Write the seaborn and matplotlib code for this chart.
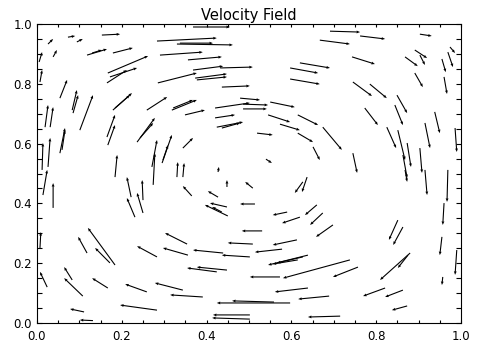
import matplotlib
matplotlib.use("Agg")
import matplotlib.pyplot as plt
from matplotlib.ticker import MultipleLocator, FormatStrFormatter
import seaborn as sns
import numpy as np

# Streak tails (x0, y0) and heads (x1, y1)
x0 = [0.368, 0.153, 0.073, 0.094, 0.026, 0.283, 0.330, 0.337, 0.118, 0.130,
      0.179, 0.038, 0.005, 0.290, 0.356, 0.167, 0.172, 0.165, 0.368, 0.432,
      0.285, 0.373, 0.377, 0.436, 0.007, 0.054, 0.083, 0.085, 0.101, 0.179,
      0.184, 0.259, 0.318, 0.321, 0.349, 0.420, 0.019, 0.031, 0.165, 0.167,
      0.236, 0.243, 0.420, 0.424, 0.436, 0.054, 0.059, 0.012, 0.026, 0.271,
      0.295, 0.297, 0.344, 0.184, 0.274, 0.330, 0.344, 0.427,
      0.014, 0.038, 0.222, 0.250, 0.231, 0.250, 0.365, 0.427, 0.448, 0.509,
      0.448, 0.450, 0.436, 0.514, 0.531, 0.007, 0.118, 0.184, 0.172, 0.283,
      0.354, 0.356, 0.439, 0.502, 0.509, 0.448, 0.424, 0.024, 0.083, 0.108,
      0.167, 0.259, 0.344, 0.391, 0.283, 0.111, 0.132, 0.597, 0.559, 0.502,
      0.502,
      0.691, 0.667, 0.762, 0.903, 0.620, 0.597, 0.597, 0.743, 0.868, 0.891,
      0.903, 0.974, 0.969, 0.955, 0.960, 0.891, 0.745, 0.785, 0.479, 0.486,
      0.486, 0.550, 0.849, 0.844, 0.773, 0.938, 0.986, 0.545, 0.615, 0.573,
      0.519, 0.615, 0.674, 0.825, 0.851, 0.915, 0.873, 0.651, 0.540, 0.745,
      0.863, 0.903,
      0.637, 0.627, 0.868, 0.915, 0.969, 0.960, 0.955, 0.990, 0.957, 0.590,
      0.620, 0.660, 0.674, 0.698, 0.613, 0.578, 0.639, 0.627, 0.615, 0.738,
      0.757, 0.573, 0.851, 0.863, 0.880, 0.875, 0.821, 0.863, 0.873, 0.639,
      0.689, 0.715]
y0 = [0.990, 0.963, 0.956, 0.940, 0.933, 0.943, 0.933, 0.936, 0.896, 0.903,
      0.903, 0.890, 0.873, 0.896, 0.880, 0.836, 0.823, 0.803, 0.846, 0.853,
      0.803, 0.819, 0.813, 0.789, 0.806, 0.752, 0.712, 0.702, 0.645, 0.712,
      0.719, 0.712, 0.712, 0.719, 0.696, 0.719, 0.655, 0.655, 0.622, 0.595,
      0.605, 0.619, 0.686, 0.655, 0.652, 0.568, 0.579, 0.512, 0.522, 0.522,
      0.535, 0.545, 0.585, 0.488, 0.462, 0.488, 0.488, 0.505,
      0.428, 0.385, 0.421, 0.411, 0.354, 0.368, 0.425, 0.421, 0.455, 0.451,
      0.388, 0.358, 0.371, 0.398, 0.308, 0.251, 0.234, 0.194, 0.201, 0.221,
      0.264, 0.227, 0.234, 0.221, 0.264, 0.177, 0.171, 0.120, 0.144, 0.090,
      0.117, 0.104, 0.110, 0.087, 0.043, 0.037, 0.008, 0.067, 0.070, 0.027,
      0.013,
      0.976, 0.946, 0.960, 0.966, 0.870, 0.853, 0.816, 0.890, 0.890, 0.913,
      0.896, 0.923, 0.906, 0.883, 0.823, 0.836, 0.806, 0.799, 0.752, 0.732,
      0.716, 0.739, 0.762, 0.729, 0.719, 0.706, 0.652, 0.696, 0.696, 0.665,
      0.635, 0.635, 0.655, 0.655, 0.645, 0.669, 0.602, 0.589, 0.548, 0.568,
      0.562, 0.585,
      0.488, 0.472, 0.512, 0.512, 0.512, 0.401, 0.288, 0.244, 0.154, 0.371,
      0.354, 0.395, 0.368, 0.328, 0.278, 0.247, 0.227, 0.221, 0.211, 0.211,
      0.187, 0.154, 0.344, 0.321, 0.234, 0.227, 0.117, 0.110, 0.057, 0.117,
      0.090, 0.023]
x1 = [0.455, 0.196, 0.090, 0.108, 0.038, 0.424, 0.462, 0.415, 0.165, 0.153,
      0.226, 0.047, 0.012, 0.391, 0.436, 0.262, 0.236, 0.212, 0.439, 0.509,
      0.377, 0.448, 0.448, 0.502, 0.012, 0.071, 0.094, 0.097, 0.132, 0.224,
      0.219, 0.307, 0.377, 0.368, 0.396, 0.502, 0.026, 0.038, 0.184, 0.184,
      0.278, 0.274, 0.467, 0.486, 0.479, 0.066, 0.066, 0.014, 0.031, 0.283,
      0.318, 0.309, 0.368, 0.189, 0.278, 0.332, 0.347, 0.429,
      0.024, 0.038, 0.212, 0.248, 0.212, 0.236, 0.344, 0.403, 0.448, 0.491,
      0.408, 0.396, 0.413, 0.479, 0.483, 0.009, 0.097, 0.120, 0.137, 0.236,
      0.302, 0.297, 0.368, 0.436, 0.450, 0.377, 0.354, 0.007, 0.064, 0.064,
      0.130, 0.208, 0.278, 0.314, 0.196, 0.078, 0.101, 0.424, 0.460, 0.415,
      0.413,
      0.762, 0.738, 0.821, 0.931, 0.691, 0.663, 0.667, 0.797, 0.898, 0.920,
      0.915, 0.986, 0.981, 0.964, 0.967, 0.910, 0.790, 0.825, 0.526, 0.545,
      0.542, 0.608, 0.873, 0.863, 0.804, 0.950, 0.990, 0.597, 0.663, 0.620,
      0.556, 0.651, 0.719, 0.847, 0.868, 0.927, 0.882, 0.667, 0.554, 0.755,
      0.873, 0.908,
      0.625, 0.608, 0.873, 0.920, 0.967, 0.957, 0.950, 0.986, 0.955, 0.556,
      0.578, 0.632, 0.644, 0.658, 0.556, 0.514, 0.545, 0.566, 0.556, 0.580,
      0.698, 0.502, 0.830, 0.840, 0.809, 0.851, 0.769, 0.821, 0.837, 0.561,
      0.616, 0.639]
y1 = [0.990, 0.966, 0.960, 0.950, 0.950, 0.953, 0.930, 0.936, 0.916, 0.913,
      0.920, 0.913, 0.906, 0.906, 0.890, 0.893, 0.853, 0.846, 0.859, 0.856,
      0.836, 0.833, 0.823, 0.793, 0.846, 0.813, 0.779, 0.762, 0.762, 0.769,
      0.762, 0.756, 0.746, 0.746, 0.712, 0.736, 0.729, 0.722, 0.696, 0.662,
      0.686, 0.669, 0.696, 0.672, 0.669, 0.652, 0.645, 0.602, 0.619, 0.612,
      0.629, 0.595, 0.619, 0.562, 0.568, 0.538, 0.535, 0.522,
      0.512, 0.468, 0.488, 0.478, 0.418, 0.435, 0.458, 0.441, 0.478, 0.472,
      0.401, 0.395, 0.388, 0.398, 0.308, 0.304, 0.288, 0.318, 0.251, 0.257,
      0.301, 0.251, 0.244, 0.227, 0.268, 0.187, 0.184, 0.171, 0.187, 0.150,
      0.150, 0.130, 0.134, 0.094, 0.060, 0.047, 0.010, 0.067, 0.074, 0.027,
      0.017,
      0.973, 0.933, 0.950, 0.960, 0.853, 0.836, 0.799, 0.866, 0.859, 0.886,
      0.863, 0.903, 0.856, 0.839, 0.766, 0.789, 0.759, 0.752, 0.746, 0.729,
      0.716, 0.722, 0.702, 0.662, 0.662, 0.635, 0.572, 0.672, 0.662, 0.645,
      0.629, 0.605, 0.579, 0.585, 0.545, 0.585, 0.522, 0.545, 0.535, 0.502,
      0.485, 0.502,
      0.438, 0.435, 0.472, 0.428, 0.405, 0.328, 0.227, 0.161, 0.127, 0.361,
      0.334, 0.361, 0.328, 0.288, 0.261, 0.237, 0.194, 0.201, 0.197, 0.150,
      0.154, 0.154, 0.278, 0.261, 0.144, 0.184, 0.090, 0.087, 0.043, 0.104,
      0.080, 0.020]

tick_values = [0.0, 0.2, 0.4, 0.6, 0.8, 1.0]
title = "Velocity Field"

sns.set_style("ticks")
plt.rcParams['font.family'] = ['DejaVu Sans']

X0 = np.array(x0); Y0 = np.array(y0)
U = np.array(x1) - X0; V = np.array(y1) - Y0

fig = plt.figure(figsize=(4.8, 3.56), dpi=100)
ax = fig.add_axes([37/480, 33/356, 424/480, 299/356])
ax.quiver(X0, Y0, U, V, angles='xy', scale_units='xy', scale=1,
          color='black', width=0.0026, headwidth=2.6, headlength=3.2,
          headaxislength=3.0, minlength=0.5)
ax.set_xlim(0, 1)
ax.set_ylim(0, 1)
ax.set_xticks(tick_values)
ax.set_yticks(tick_values)
ax.xaxis.set_minor_locator(MultipleLocator(0.05))
ax.yaxis.set_minor_locator(MultipleLocator(0.05))
ax.xaxis.set_major_formatter(FormatStrFormatter('%.1f'))
ax.yaxis.set_major_formatter(FormatStrFormatter('%.1f'))
ax.tick_params(which='both', direction='in', top=True, right=True,
               color='black', width=0.8, labelsize=8.5, labelcolor='black')
ax.tick_params(axis='x', which='both', length=2.5, pad=5)
ax.tick_params(axis='y', which='both', length=3.8, pad=3.5)
for s in ax.spines.values():
    s.set_color('black')
    s.set_linewidth(0.8)
ax.set_title(title, fontsize=10.5, pad=3, color='black')

fig.savefig("out.png", dpi=100, facecolor='white')
